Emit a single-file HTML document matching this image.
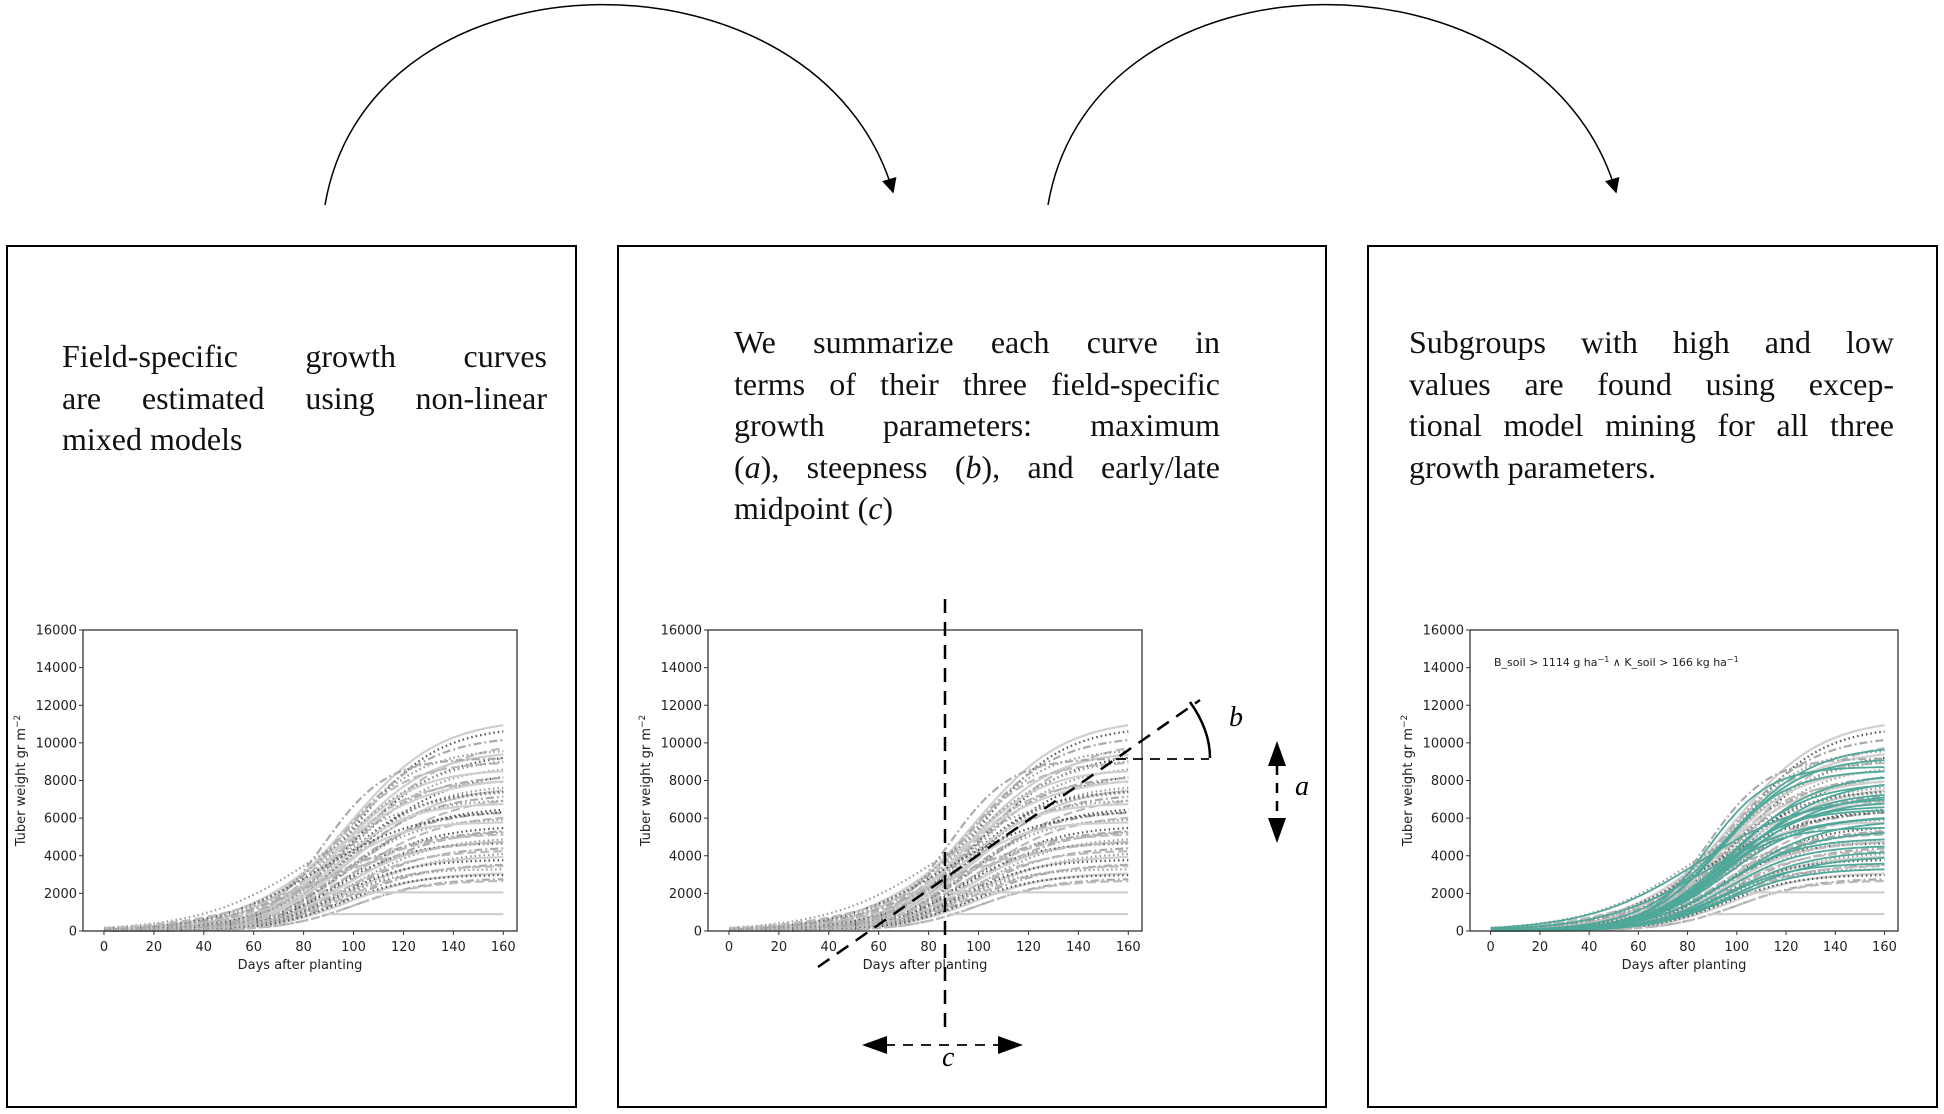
<!DOCTYPE html>
<html><head><meta charset="utf-8">
<style>
body{margin:0;background:#fff;width:1944px;height:1114px;overflow:hidden;position:relative;font-family:"Liberation Serif",serif}
.panel{position:absolute;border:2.5px solid #000;box-sizing:border-box}
.txt{position:absolute;font-size:32px;line-height:41.5px;color:#111}
.txt div{text-align:justify;text-align-last:justify;white-space:nowrap}
.txt div.last{text-align-last:left}
svg{position:absolute;left:0;top:0}
</style></head>
<body>
<div class="panel" style="left:6px;top:245px;width:571px;height:863px"></div>
<div class="panel" style="left:617px;top:245px;width:710px;height:863px"></div>
<div class="panel" style="left:1367px;top:245px;width:571px;height:863px"></div>
<div class="txt" style="left:62px;top:336px;width:485px"><div>Field-specific growth curves</div><div>are estimated using non-linear</div><div class="last">mixed models</div></div>
<div class="txt" style="left:734px;top:322px;width:486px"><div>We summarize each curve in</div><div>terms of their three field-specific</div><div>growth parameters: maximum</div><div>(<i>a</i>), steepness (<i>b</i>), and early/late</div><div class="last">midpoint (<i>c</i>)</div></div>
<div class="txt" style="left:1409px;top:322px;width:485px"><div>Subgroups with high and low</div><div>values are found using excep-</div><div>tional model mining for all three</div><div class="last">growth parameters.</div></div>
<svg id="s" width="1944" height="1114" xmlns="http://www.w3.org/2000/svg">
<defs><marker id="ah" markerWidth="10" markerHeight="10" refX="9" refY="5" orient="auto"><path d="M0,0 L10,5 L0,10 z" fill="#000"/></marker></defs>
<path d="M325,205 C370,-60 820,-60 893,192" fill="none" stroke="#000" stroke-width="1.5" marker-end="url(#ah)"/>
<path d="M1048,205 C1093,-60 1543,-60 1616,192" fill="none" stroke="#000" stroke-width="1.5" marker-end="url(#ah)"/>
</svg>
<script>
// curve parameters (asymptote, midpoint day, steepness)
const asym=[11300,10900,10400,10200,9700,9600,9500,9200,9000,8800,8600,8500,8300,8000,7800,7700,7500,7300,7200,7000,6800,6600,6400,6200,6000,5800,5600,5400,5200,5000,4800,4700,4500,4300,4200,4000,3800,3600,3500,3300,3100,3000,2800,2700,7600,8200,6500,5500,4900,9300];
const mid=[98,100,96,102,95,97,100,88,92,99,94,101,96,93,98,100,95,97,102,94,92,98,96,100,95,90,97,99,94,100,96,93,98,95,100,97,94,99,96,92,98,95,101,100,84,90,86,88,82,94];
const steep=[0.055,0.06,0.058,0.052,0.065,0.06,0.057,0.08,0.07,0.06,0.066,0.055,0.062,0.07,0.06,0.058,0.065,0.06,0.055,0.068,0.07,0.06,0.062,0.058,0.066,0.075,0.06,0.058,0.064,0.06,0.066,0.07,0.06,0.066,0.06,0.064,0.07,0.062,0.066,0.075,0.066,0.07,0.068,0.07,0.045,0.05,0.048,0.046,0.042,0.052];
const flatVals=[2050,900];
const teal=[2,4,7,8,9,11,12,14,15,17,19,20,22,23,25,26,28,30,32,34,36,38,44,46];
const xTicks=[0,20,40,60,80,100,120,140,160];
const yTicks=[0,2000,4000,6000,8000,10000,12000,14000,16000];
const NS='http://www.w3.org/2000/svg';
const svg=document.getElementById('s');
function mk(t,a,p){const e=document.createElementNS(NS,t);for(const k in a)e.setAttribute(k,a[k]);(p||svg).appendChild(e);return e;}
const styles=[{c:'#cfcfcf',d:''},{c:'#555',d:'1.5 3'},{c:'#aaa',d:'8 3 2 3'},{c:'#bbb',d:'9 4'},{c:'#999',d:'1.5 3'}];
function plot(name,L,R,T,B,hl){
  const sx=d=>L+(d+8.4)/(173.9)*(R-L), sy=v=>B-v/16000*(B-T);
  const g=mk('g',{});
  asym.forEach((a,i)=>{
    let p='';for(let d=0;d<=160;d+=2){const v=a/(1+Math.exp(-steep[i]*(d-mid[i])));p+=(d?'L':'M')+sx(d).toFixed(1)+','+sy(v).toFixed(1);}
    const st=styles[i%5];const e=mk('path',{d:p,fill:'none',stroke:st.c,'stroke-width':2.2,'stroke-dasharray':st.d},g);
    
  });
  flatVals.forEach(v=>{const e=mk('line',{x1:sx(88),x2:sx(160),y1:sy(v),y2:sy(v),stroke:'#ccc','stroke-width':2},g);
    });
  if(hl){teal.forEach(i=>{let p='';for(let d=0;d<=160;d+=2){const v=asym[i]*0.95/(1+Math.exp(-steep[i]*(d-mid[i])));p+=(d?'L':'M')+sx(d).toFixed(1)+','+sy(v).toFixed(1);}
    const e=mk('path',{d:p,fill:'none',stroke:'#4fa89a','stroke-width':1.8},g);
    });}
  const f=mk('rect',{x:L,y:T,width:R-L,height:B-T,fill:'none',stroke:'#333','stroke-width':1.3},g);
  
  xTicks.forEach(t=>{mk('line',{x1:sx(t),x2:sx(t),y1:B,y2:B+4,stroke:'#333'},g);
    const e=mk('text',{x:sx(t),y:B+20,'text-anchor':'middle','font-size':13,'font-family':'DejaVu Sans, sans-serif',fill:'#222'},g);e.textContent=t;
    });
  yTicks.forEach(t=>{mk('line',{x1:L-4,x2:L,y1:sy(t),y2:sy(t),stroke:'#333'},g);
    const e=mk('text',{x:L-6,y:sy(t)+4.5,'text-anchor':'end','font-size':13,'font-family':'DejaVu Sans, sans-serif',fill:'#222'},g);e.textContent=t;
    });
  const xl=mk('text',{x:(L+R)/2,y:B+38,'text-anchor':'middle','font-size':13,'font-family':'DejaVu Sans, sans-serif',fill:'#222'},g);xl.textContent='Days after planting';
  
  const yl=mk('text',{x:0,y:0,'text-anchor':'middle','font-size':13,'font-family':'DejaVu Sans, sans-serif',fill:'#222',transform:`translate(${L-58},${(T+B)/2}) rotate(-90)`},g);
  yl.innerHTML='Tuber weight gr m<tspan dy="-5" font-size="9">−2</tspan>';
  
  return {sx,sy};
}
plot('chart-panel-1',83,517,630,931,false);
plot('chart-panel-2',708,1142,630,931,false);
plot('chart-panel-3',1470,1898,630,931,true);
</script>
<svg width="1944" height="1114" xmlns="http://www.w3.org/2000/svg" style="pointer-events:none">
<g stroke="#000" stroke-width="2.5" fill="none">
<line x1="945" y1="599" x2="945" y2="1029" stroke-dasharray="14 9"/>
<line x1="818" y1="967" x2="1200" y2="700" stroke-dasharray="14 9"/>
<line x1="1116" y1="759" x2="1209" y2="759" stroke-dasharray="10 7" stroke-width="1.8"/>
<path d="M1190,702 Q1210,730 1210,758"/>
<line x1="1277" y1="765" x2="1277" y2="820" stroke-dasharray="10 8"/>
<line x1="885" y1="1045" x2="1000" y2="1045" stroke-dasharray="10 8" stroke-width="1.8"/>
</g>
<path d="M1277,741 L1268,766 L1286,766z M1277,843 L1268,818 L1286,818z M862,1045 L887,1036 L887,1054z M1023,1045 L998,1036 L998,1054z" fill="#000"/>
<text x="1229" y="726" font-size="28" font-style="italic" font-family="Liberation Serif, serif">b</text>
<text x="1295" y="795" font-size="28" font-style="italic" font-family="Liberation Serif, serif">a</text>
<text x="942" y="1066" font-size="28" font-style="italic" font-family="Liberation Serif, serif">c</text>
<text x="1494" y="666" font-size="11" font-family="DejaVu Sans, sans-serif" fill="#222">B_soil &gt; 1114 g ha<tspan dy="-4" font-size="8">−1</tspan><tspan dy="4"> ∧ K_soil &gt; 166 kg ha</tspan><tspan dy="-4" font-size="8">−1</tspan></text>
</svg>
</body></html>
